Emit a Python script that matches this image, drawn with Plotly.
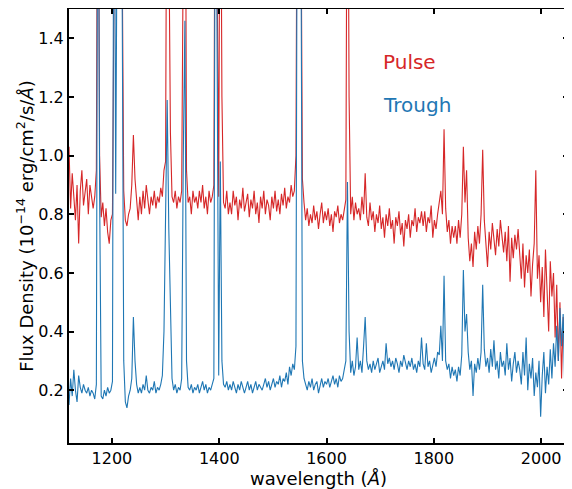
import numpy as np
import plotly.graph_objects as go

# wavelength grid (Angstrom), 3 A sampling
wave_start = 1120
wave_step = 3
n_points = 311
wavelength = [wave_start + wave_step * i for i in range(n_points)]

# Pulse spectrum (10^-14 erg/cm^2/s/A)
pulse_flux = [
    1.03, 0.82, 0.94, 0.86, 0.78, 0.90, 0.70, 0.88, 0.95, 0.83,
    0.88, 0.92, 0.80, 0.90, 0.86, 0.82, 0.86, 0.95, 2.50, 1.00,
    0.79, 0.84, 0.76, 0.82, 0.74, 0.70, 0.78, 0.80, 1.60, 3.00,
    2.50, 3.00, 2.80, 1.70, 0.88, 0.78, 0.76, 0.80, 0.82, 0.90,
    1.07, 0.92, 0.84, 0.78, 0.86, 0.80, 0.88, 0.82, 0.90, 0.84,
    0.80, 0.86, 0.83, 0.88, 0.82, 0.86, 0.84, 0.89, 0.86, 0.95,
    0.98, 2.50, 1.60, 1.08, 0.86, 0.84, 0.88, 0.82, 0.86, 0.84,
    0.88, 1.60, 2.60, 0.95, 0.84, 0.86, 0.80, 0.88, 0.84, 0.86,
    0.82, 0.88, 0.84, 0.90, 0.82, 0.86, 0.80, 0.88, 0.84, 0.86,
    0.90, 2.50, 1.80, 0.86, 2.40, 1.20, 0.84, 0.82, 0.88, 0.80,
    0.84, 0.80, 0.88, 0.83, 0.86, 0.78, 0.85, 0.82, 0.89, 0.81,
    0.84, 0.87, 0.79, 0.85, 0.82, 0.88, 0.80, 0.84, 0.77, 0.86,
    0.82, 0.88, 0.80, 0.85, 0.83, 0.78, 0.86, 0.82, 0.88, 0.81,
    0.85, 0.80, 0.87, 0.83, 0.89, 0.82, 0.86, 0.84, 0.90, 0.86,
    0.88, 1.00, 2.50, 2.50, 2.00, 0.92, 0.84, 0.78, 0.82, 0.76,
    0.80, 0.77, 0.83, 0.78, 0.81, 0.75, 0.80, 0.84, 0.77, 0.81,
    0.78, 0.82, 0.76, 0.80, 0.74, 0.81, 0.79, 0.83, 0.77, 0.80,
    0.78, 0.82, 0.85, 2.50, 1.20, 0.80, 0.86, 0.78, 0.84, 0.80,
    0.82, 0.78, 0.86, 0.80, 0.94, 0.79, 0.76, 0.84, 0.78, 0.81,
    0.74, 0.80, 0.77, 0.83, 0.75, 0.79, 0.72, 0.80, 0.76, 0.82,
    0.75, 0.78, 0.70, 0.79, 0.76, 0.81, 0.73, 0.77, 0.69, 0.78,
    0.75, 0.80, 0.72, 0.78, 0.76, 0.82, 0.74, 0.79, 0.77, 0.81,
    0.76, 0.81, 0.74, 0.79, 0.77, 0.83, 0.72, 0.78, 0.75, 0.80,
    0.84, 0.88, 0.80, 1.09, 0.82, 0.74, 0.78, 0.70, 0.76, 0.72,
    0.76, 0.70, 0.78, 0.72, 0.80, 1.03, 0.84, 0.95, 0.72, 0.64,
    0.70, 0.62, 0.74, 0.68, 0.76, 0.70, 0.80, 1.02, 0.78, 0.70,
    0.62, 0.74, 0.68, 0.77, 0.70, 0.66, 0.75, 0.69, 0.78, 0.71,
    0.67, 0.74, 0.64, 0.76, 0.57, 0.72, 0.65, 0.73, 0.68, 0.75,
    0.64, 0.58, 0.70, 0.55, 0.66, 0.60, 0.68, 0.52, 0.63, 0.70,
    0.95, 0.58, 0.66, 0.50, 0.62, 0.45, 0.68, 0.55, 0.40, 0.64,
    0.52, 0.60, 0.38, 0.56, 0.30, 0.50, 0.24, 0.45, 0.32, 0.88,
    0.40,
]

# Trough spectrum (10^-14 erg/cm^2/s/A)
trough_flux = [
    0.15, 0.24, 0.18, 0.27, 0.20, 0.16, 0.25, 0.21, 0.19, 0.22,
    0.20, 0.19, 0.21, 0.18, 0.20, 0.19, 0.17, 0.22, 2.50, 0.90,
    0.18, 0.17, 0.20, 0.18, 0.21, 0.19, 0.20, 0.23, 2.50, 0.87,
    2.50, 3.00, 3.00, 1.60, 0.30, 0.16, 0.14, 0.18, 0.20, 0.24,
    0.45, 0.30, 0.22, 0.19, 0.21, 0.19, 0.22, 0.20, 0.25, 0.20,
    0.19, 0.21, 0.20, 0.23, 0.19, 0.21, 0.20, 0.22, 0.25, 0.40,
    0.85, 1.19, 0.75, 0.46, 0.24, 0.20, 0.22, 0.19, 0.21, 0.20,
    0.24, 1.00, 1.46, 0.30, 0.21, 0.20, 0.22, 0.19, 0.21, 0.20,
    0.22, 0.19, 0.21, 0.23, 0.20, 0.22, 0.19, 0.21, 0.20, 0.22,
    0.24, 2.50, 1.50, 0.25, 0.98, 0.30, 0.22, 0.21, 0.23, 0.20,
    0.22, 0.20, 0.23, 0.21, 0.19, 0.22, 0.20, 0.23, 0.21, 0.19,
    0.21, 0.23, 0.20, 0.22, 0.19, 0.21, 0.23, 0.20, 0.22, 0.21,
    0.20, 0.22, 0.24, 0.21, 0.23, 0.20, 0.22, 0.24, 0.21, 0.23,
    0.22, 0.25, 0.21, 0.24, 0.23, 0.26, 0.22, 0.28, 0.25, 0.29,
    0.27, 0.35, 2.50, 2.50, 2.00, 0.30, 0.24, 0.22, 0.20, 0.23,
    0.21, 0.24, 0.20, 0.22, 0.23, 0.19, 0.22, 0.24, 0.21, 0.23,
    0.22, 0.24, 0.21, 0.23, 0.25, 0.22, 0.24, 0.21, 0.25, 0.23,
    0.24, 0.27, 0.30, 0.91, 0.40, 0.26, 0.30, 0.25, 0.28, 0.38,
    0.27, 0.30, 0.26, 0.35, 0.45, 0.30, 0.27, 0.29, 0.26, 0.30,
    0.27, 0.29, 0.31, 0.26, 0.28, 0.30, 0.27, 0.36, 0.29, 0.31,
    0.28, 0.30, 0.27, 0.31, 0.29, 0.26, 0.30, 0.28, 0.32, 0.29,
    0.27, 0.30, 0.28, 0.31, 0.27, 0.29, 0.26, 0.30, 0.28, 0.38,
    0.29, 0.27, 0.36, 0.28, 0.30, 0.26, 0.29, 0.31, 0.28, 0.33,
    0.32, 0.42, 0.30, 0.59, 0.30, 0.27, 0.29, 0.24, 0.28, 0.25,
    0.27, 0.23, 0.28, 0.25, 0.32, 0.61, 0.40, 0.46, 0.33, 0.27,
    0.30, 0.18, 0.29, 0.26, 0.31, 0.27, 0.33, 0.56, 0.34, 0.28,
    0.31, 0.26, 0.34, 0.28, 0.37, 0.27, 0.30, 0.24, 0.33, 0.28,
    0.30, 0.25, 0.36, 0.27, 0.31, 0.23, 0.29, 0.33, 0.26, 0.30,
    0.27, 0.22, 0.33, 0.25, 0.38, 0.20, 0.29, 0.24, 0.31, 0.18,
    0.26, 0.21, 0.30, 0.11, 0.25, 0.33, 0.19, 0.28, 0.22, 0.34,
    0.24, 0.36, 0.28, 0.42, 0.30, 0.48, 0.35, 0.46, 0.20, 0.08,
    0.03,
]

x_ticks = [1200, 1400, 1600, 1800, 2000]
y_ticks = [0.2, 0.4, 0.6, 0.8, 1.0, 1.2, 1.4]

RED = "#d62728"
BLUE = "#1f77b4"
FONT = "DejaVu Sans"

fig = go.Figure()
fig.add_trace(go.Scatter(x=wavelength, y=pulse_flux, mode="lines",
                         line=dict(color=RED, width=1.1), name="Pulse",
                         showlegend=False))
fig.add_trace(go.Scatter(x=wavelength, y=trough_flux, mode="lines",
                         line=dict(color=BLUE, width=1.1), name="Trough",
                         showlegend=False))

fig.add_annotation(x=1702, y=1.32, text="Pulse", showarrow=False,
                   xanchor="left", yanchor="middle",
                   font=dict(family=FONT, size=20, color=RED))
fig.add_annotation(x=1702, y=1.172, text="Trough", showarrow=False,
                   xanchor="left", yanchor="middle",
                   font=dict(family=FONT, size=20, color=BLUE))

axis_common = dict(showline=True, linecolor="black", linewidth=2,
                   mirror="ticks", ticks="inside", ticklen=5, tickwidth=1.5,
                   tickcolor="black", showgrid=False, zeroline=False,
                   automargin=False,
                   tickfont=dict(family=FONT, size=16, color="black"))

fig.update_xaxes(range=[1120, 2050], tickvals=x_ticks,
                 ticktext=[str(v) for v in x_ticks],
                 title=dict(text="wavelength (<i>Å</i>)",
                            font=dict(family=FONT, size=18, color="black"),
                            standoff=2),
                 **axis_common)
fig.update_yaxes(range=[0.02, 1.5], tickvals=y_ticks,
                 ticktext=[f"{v:.1f}" for v in y_ticks],
                 title=dict(text="Flux Density (10<sup>−14</sup> erg/cm<sup>2</sup>/s/<i>Å</i>)",
                            font=dict(family=FONT, size=18, color="black"),
                            standoff=0),
                 **axis_common)

# the page body adds an 8px offset, so the figure is sized to fit the window
fig.update_layout(width=564, height=481,
                  margin=dict(l=61, r=4, t=1, b=46),
                  plot_bgcolor="white", paper_bgcolor="white",
                  font=dict(family=FONT))

fig.write_html("out.html")
